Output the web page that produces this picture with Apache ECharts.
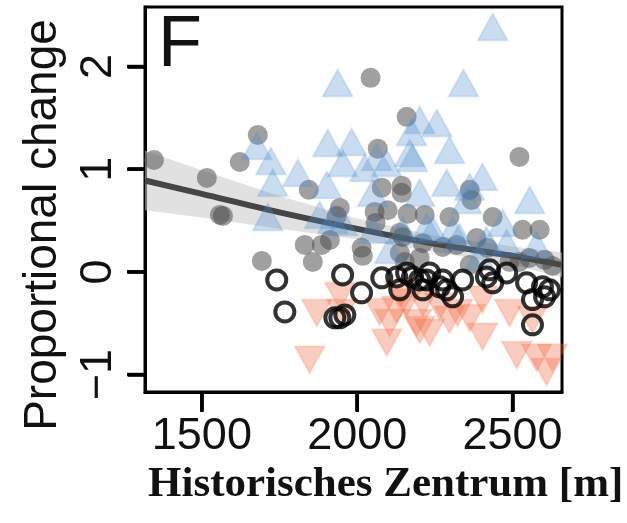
<!DOCTYPE html>
<html>
<head>
<meta charset="utf-8">
<title>Proportional change</title>
<script src="https://cdn.jsdelivr.net/npm/echarts@6/dist/echarts.min.js"></script>
</head>
<body style="margin:0;background:#fff">
<div id="main" style="width:627px;height:523px;"></div>
<script type="text/javascript">
// tick labels
var xTicks = [1500, 2000, 2500];
var yTicks = [-1, 0, 1, 2];
var xMin = 1317, xMax = 2659, yMin = -1.17, yMax = 2.58;

// filled gray circles
var grayPts = [
  [1346, 1.09], [1516, 0.915], [1558, 0.555], [1568, 0.545], [1622, 1.07], [1680, 1.334],
  [1693, 0.107], [1831, 0.263], [1886, 0.263], [1857, 0.097], [1844, 0.80], [1944, 0.623],
  [1934, 0.545], [2043, 1.89], [2159, 1.51], [2066, 1.20], [2079, 0.82], [2143, 0.84],
  [2143, 0.77], [2056, 0.584], [2098, 0.60], [2059, 0.477], [2162, 0.565], [2217, 0.555],
  [2146, 0.34], [2014, 0.234], [2018, 0.156], [2522, 1.12], [2362, 0.80], [2368, 0.70],
  [2297, 0.535], [2436, 0.535], [2532, 0.41], [2587, 0.41], [2137, 0.38], [2211, 0.28],
  [2137, 0.185], [2275, 0.243], [2384, 0.33], [2419, 0.234], [2320, 0.263], [2554, 0.136],
  [2628, 0.058], [2201, 0.136], [2490, 0.097], [2603, 0.117], [2153, 0.097], [2362, 0.068],
  [2522, 0.097], [1912, 0.31]
];

// blue triangles (increase)
var bluePts = [
  [1677, 1.227], [1722, 1.08], [1728, 0.867], [1712, 0.535], [1809, 0.964], [1905, 1.256],
  [1937, 1.84], [1982, 1.266], [1953, 1.06], [2024, 1.013], [1902, 0.847], [2095, 1.06],
  [2178, 1.11], [2175, 1.363], [2201, 1.48], [2256, 1.45], [2050, 0.77], [2201, 0.77],
  [1879, 0.555], [1921, 0.506], [1953, 0.487], [2436, 2.385], [2342, 1.84], [2063, 1.12],
  [2169, 1.159], [2297, 1.188], [2403, 0.925], [2288, 0.867], [2362, 0.828], [2555, 0.70],
  [2468, 0.477], [2577, 0.263], [2416, 0.31], [2307, 0.41], [2243, 0.41], [2352, 0.70],
  [2223, 0.438], [2329, 0.34], [2481, 0.282], [2394, 0.146], [2146, 0.41], [2050, 0.41],
  [2104, 0.214]
];

// orange inverted triangles (decrease)
var orangePts = [
  [1847, -0.857], [1870, -0.40], [1944, -0.234], [1950, -0.40], [2072, -0.39], [2104, -0.497],
  [2095, -0.69], [2127, -0.37], [2191, -0.497], [2211, -0.30], [2201, -0.565], [2297, -0.467],
  [2323, -0.40], [2265, -0.34], [2403, -0.27], [2403, -0.633], [2490, -0.40], [2513, -0.81],
  [2577, -0.837], [2609, -0.974], [2628, -0.837], [2233, -0.594], [2159, -0.30], [2137, -0.224],
  [2564, -0.467], [2362, -0.45]
];

// open black circles
var openPts = [
  [1741, -0.078], [1767, -0.39], [1953, -0.03], [2014, -0.204], [1928, -0.448], [1960, -0.419],
  [1944, -0.448], [2079, -0.058], [2127, -0.049], [2159, -0.01], [2201, -0.078], [2178, -0.049],
  [2223, -0.078], [2211, -0.175], [2265, -0.146], [2288, -0.175], [2307, -0.243], [2275, -0.078],
  [2339, -0.078], [2416, -0.049], [2436, -0.107], [2426, 0.02], [2481, -0.01], [2545, -0.107],
  [2596, -0.146], [2564, -0.27], [2564, -0.516], [2619, -0.175], [2603, -0.243], [2233, -0.01],
  [2137, -0.175]
];

// fitted trend and confidence band
var fitX  = [1317, 1500, 1750, 2000, 2250, 2500, 2659];
var fitY  = [0.89, 0.76, 0.58, 0.419, 0.273, 0.156, 0.068];
var bandLo = [0.60, 0.53, 0.42, 0.319, 0.193, 0.066, -0.052];
var bandHi = [1.18, 0.99, 0.74, 0.519, 0.353, 0.246, 0.188];

var fitData = [];
for (var i = 0; i < fitX.length; i++) {
  fitData.push([fitX[i], fitY[i]]);
}

var myChart = echarts.init(document.getElementById('main'));

var option = {
  animation: false,
  backgroundColor: '#fff',
  grid: {
    left: 145, top: 7, right: 65, bottom: 131,
    show: true, borderColor: '#000', borderWidth: 3,
    containLabel: false, outerBoundsMode: 'none'
  },
  title: {
    text: 'Historisches Zentrum [m]',
    left: 143, top: 458,
    textStyle: { fontFamily: 'Liberation Serif', fontWeight: 'bold', fontSize: 43, color: '#111' }
  },
  graphic: [
    {
      id: 'ytitle', type: 'text', x: 43, y: 225, rotation: Math.PI / 2,
      style: {
        text: 'Proportional change', fontFamily: 'Liberation Sans', fontSize: 46,
        fill: '#111', align: 'center', verticalAlign: 'middle'
      }
    },
    {
      id: 'panel', type: 'text', left: 158, top: 10,
      style: { text: 'F', fontFamily: 'Liberation Sans', fontSize: 72, fill: '#111' }
    }
  ],
  xAxis: {
    type: 'value', min: xMin, max: xMax,
    splitLine: { show: false },
    axisLine: { show: true, onZero: false, lineStyle: { color: '#000', width: 3 } },
    axisTick: { show: true, inside: false, length: 19, customValues: xTicks, lineStyle: { color: '#000', width: 3.5 } },
    axisLabel: {
      customValues: xTicks, margin: 22,
      fontFamily: 'Liberation Sans', fontSize: 45, color: '#111',
      formatter: function (v) { return String(v); }
    }
  },
  yAxis: {
    type: 'value', min: yMin, max: yMax,
    splitLine: { show: false },
    axisLine: { show: true, onZero: false, lineStyle: { color: '#000', width: 3 } },
    axisTick: { show: true, inside: false, length: 17, customValues: yTicks, lineStyle: { color: '#000', width: 3.5 } },
    axisLabel: {
      customValues: yTicks, margin: 24, rotate: 90,
      fontFamily: 'Liberation Sans', fontSize: 45, color: '#111',
      formatter: function (v) { return v < 0 ? '\u2212' + Math.abs(v) : String(v); }
    }
  },
  series: [
    {
      // confidence band as one polygon through the axis scales
      type: 'custom', data: [[fitX[0], fitY[0]]], z: 1, silent: true,
      renderItem: function (params, api) {
        if (params.dataIndex !== 0) return;
        var pts = [];
        for (var j = 0; j < fitX.length; j++) pts.push(api.coord([fitX[j], bandHi[j]]));
        for (var k = fitX.length - 1; k >= 0; k--) pts.push(api.coord([fitX[k], bandLo[k]]));
        return {
          type: 'polygon',
          shape: { points: pts, smooth: 0 },
          style: { fill: 'rgba(200,200,200,0.55)' }
        };
      }
    },
    {
      type: 'line', data: fitData, symbol: 'none', smooth: 0.3,
      lineStyle: { color: '#454545', width: 6 }, z: 2
    },
    {
      type: 'scatter', data: grayPts, symbol: 'circle', symbolSize: 20,
      itemStyle: { color: 'rgba(75,75,75,0.66)' }, z: 3
    },
    {
      type: 'scatter', data: bluePts, symbol: 'triangle', symbolSize: [30, 27],
      itemStyle: { color: 'rgba(80,140,205,0.38)', borderColor: 'rgba(80,140,205,0.2)', borderWidth: 2 }, z: 4
    },
    {
      type: 'scatter', data: orangePts, symbol: 'triangle', symbolSize: [30, 27], symbolRotate: 180,
      itemStyle: { color: 'rgba(240,105,65,0.42)', borderColor: 'rgba(240,105,65,0.2)', borderWidth: 2 }, z: 5
    },
    {
      type: 'scatter', data: openPts, symbol: 'circle', symbolSize: 19,
      itemStyle: { color: 'rgba(0,0,0,0)', borderColor: '#000', borderWidth: 4 }, z: 6
    }
  ]
};
myChart.setOption(option);

// extra outward tick bars, positioned from the chart's own scales
var ticks = [];
xTicks.forEach(function (v, n) {
  var p = myChart.convertToPixel({ xAxisIndex: 0 }, v);
  ticks.push({ id: 'xt' + n, type: 'rect', z: 100, x: p, y: 392,
    shape: { x: -1.75, y: 0, width: 3.5, height: 20 },
    style: { fill: '#000' } });
});
yTicks.forEach(function (v, n) {
  var p = myChart.convertToPixel({ yAxisIndex: 0 }, v);
  ticks.push({ id: 'yt' + n, type: 'rect', z: 100, x: 127, y: p,
    shape: { x: 0, y: -1.75, width: 18, height: 3.5 },
    style: { fill: '#000' } });
});
myChart.setOption({ graphic: ticks });
</script>
</body>
</html>
